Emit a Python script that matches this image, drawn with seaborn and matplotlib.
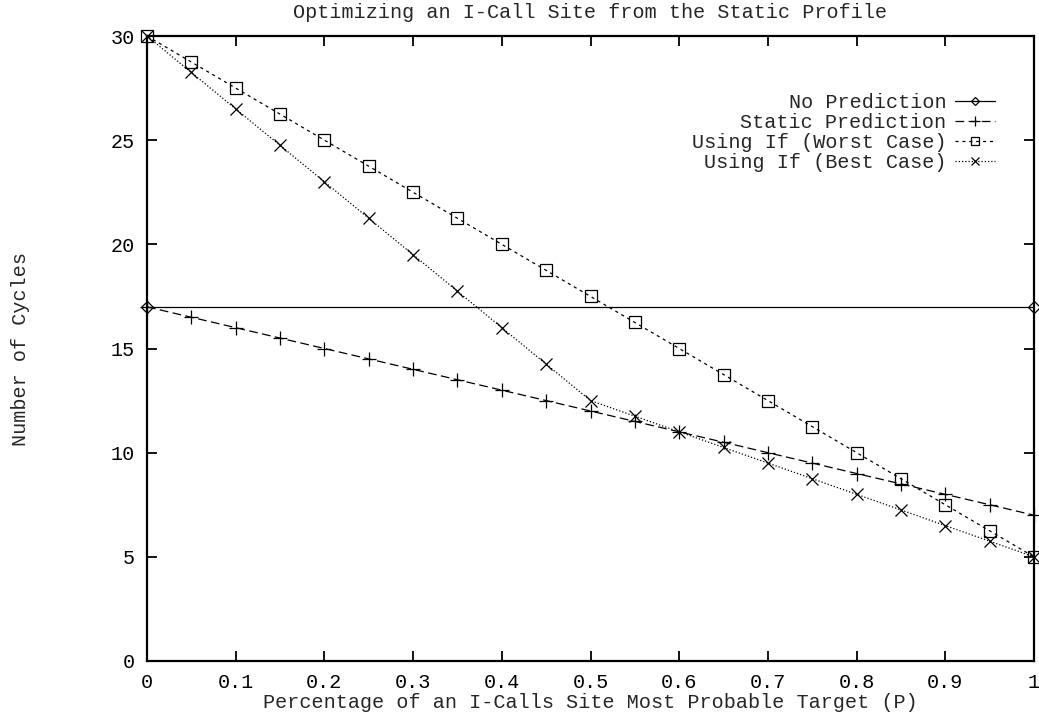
import matplotlib
matplotlib.use("Agg")
import matplotlib.pyplot as plt
import seaborn as sns
import numpy as np
import pandas as pd

# ---- data ----
p_values = [0.0, 0.05, 0.1, 0.15, 0.2, 0.25, 0.3, 0.35, 0.4, 0.45, 0.5,
            0.55, 0.6, 0.65, 0.7, 0.75, 0.8, 0.85, 0.9, 0.95, 1.0]
no_pred_p = [0.0, 1.0]
no_prediction = [17, 17]
static_prediction = [17, 16.5, 16, 15.5, 15, 14.5, 14, 13.5, 13, 12.5, 12,
                     11.5, 11, 10.5, 10, 9.5, 9, 8.5, 8, 7.5, 7]
worst_case = [30, 28.75, 27.5, 26.25, 25, 23.75, 22.5, 21.25, 20, 18.75, 17.5,
              16.25, 15, 13.75, 12.5, 11.25, 10, 8.75, 7.5, 6.25, 5]
best_case = [30, 28.25, 26.5, 24.75, 23, 21.25, 19.5, 17.75, 16, 14.25, 12.5,
             11.75, 11, 10.25, 9.5, 8.75, 8, 7.25, 6.5, 5.75, 5]
x_ticks = [0, 0.1, 0.2, 0.3, 0.4, 0.5, 0.6, 0.7, 0.8, 0.9, 1]
x_tick_labels = ["0", "0.1", "0.2", "0.3", "0.4", "0.5", "0.6", "0.7", "0.8", "0.9", "1"]
y_ticks = [0, 5, 10, 15, 20, 25, 30]

title = "Optimizing an I-Call Site from the Static Profile"
xlabel = "Percentage of an I-Calls Site Most Probable Target (P)"
ylabel = "Number of Cycles"

sns.set_theme(style="white")
plt.rcParams["font.family"] = ["Liberation Mono", "DejaVu Sans Mono"]
FS = 14.5

fig = plt.figure(figsize=(10.39, 7.15), dpi=100)
ax = fig.add_axes([147 / 1039, 54 / 715, (1034 - 147) / 1039, (661 - 36) / 715])

base = dict(color="black", linewidth=0.9, clip_on=False,
            markeredgewidth=0.9, markeredgecolor="black", ax=ax)

sns.lineplot(x=no_pred_p, y=no_prediction, marker="D", markersize=6,
             markerfacecolor="none", linestyle="-",
             label="No Prediction", **base)
sns.lineplot(x=p_values, y=static_prediction, marker="+", markersize=10,
             linestyle=(0, (7, 3.5)), label="Static Prediction", **base)
sns.lineplot(x=p_values, y=worst_case, marker="s", markersize=8,
             markerfacecolor="none", linestyle=(0, (2.5, 3)),
             label="Using If (Worst Case)", **base)
sns.lineplot(x=p_values, y=best_case, marker="x", markersize=8,
             linestyle=(0, (1, 1.6)), label="Using If (Best Case)", **base)

ax.set_xlim(0, 1)
ax.set_ylim(0, 30)
ax.set_xticks(x_ticks)
ax.set_xticklabels(x_tick_labels)
ax.set_yticks(y_ticks)
ax.tick_params(direction="in", length=7, width=1.3, top=True, right=True,
               bottom=True, left=True, labelsize=FS, colors="black", pad=9)
for s in ax.spines.values():
    s.set_linewidth(1.6)
    s.set_color("black")
ax.grid(False)

ax.set_title(title, fontsize=FS, pad=13)
ax.set_xlabel(xlabel, fontsize=FS, labelpad=0)
ax.set_ylabel(ylabel, fontsize=FS, labelpad=58)

leg = ax.legend(loc="upper right", bbox_to_anchor=(0.965, 0.922), frameon=False,
                markerfirst=False, fontsize=FS, handlelength=2.0,
                handletextpad=0.4, labelspacing=0.05, borderaxespad=0,
                markerscale=0.75)

fig.savefig("out.png", dpi=100, facecolor="white")
